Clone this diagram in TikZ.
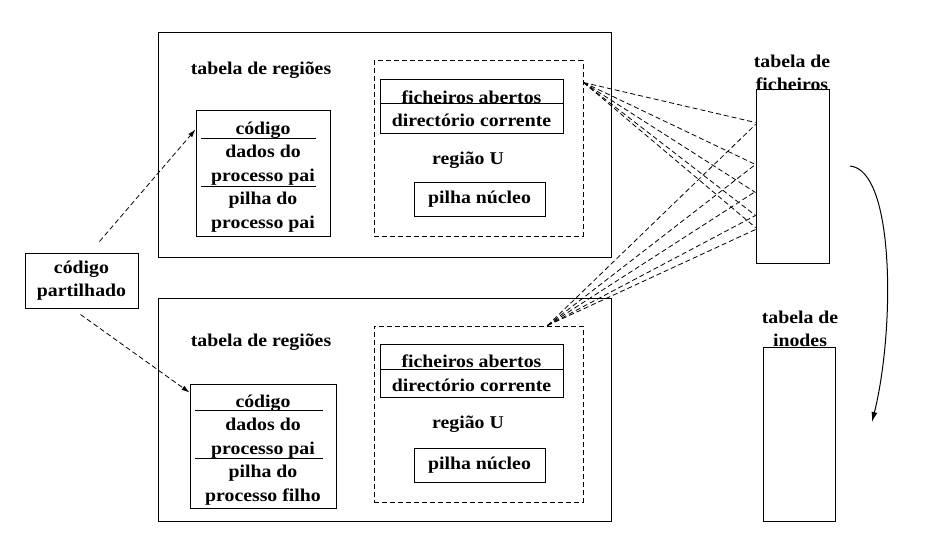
\documentclass[tikz,border=0pt]{standalone}
\usepackage{fontspec}
\setmainfont{Liberation Serif}[FakeStretch=1.1]
\usetikzlibrary{arrows.meta, positioning, calc}

\begin{document}
\begin{tikzpicture}[x=1pt, y=-1pt,
    every node/.style={font=\fontsize{18}{23.5}\selectfont\bfseries},
    box/.style={draw, line width=1pt, inner sep=0pt},
    ubox/.style={draw, line width=1pt, dashed, dash pattern=on 5pt off 3pt, inner sep=0pt},
    link/.style={dash pattern=on 5pt off 3pt, line width=0.8pt},
    arrow/.style={link, -{Latex[length=8pt, width=5pt]}}
]
    \useasboundingbox (0,0) rectangle (936,540);

    % processo pai
    \node[box, minimum width=453, minimum height=224] (proc1) at (384.5,145) {};
    \node (treg1) at (261,70) {tabela de regiões};
    \node[box, minimum width=134, minimum height=125] (reg1) at (263,173.5) {};
    \node[align=center] (txt1) at (263,177) {código\\dados do\\processo pai\\pilha do\\processo pai};
    \draw (201,138) -- (316,138);
    \draw (201,186) -- (316,186);
    \node[ubox, minimum width=209, minimum height=175] (ureg1) at (478.5,148.5) {};
    \node[box, minimum width=183, minimum height=54] (fich1) at (471.5,107) {};
    \node[align=center] (ftxt1) at (471.5,109) {ficheiros abertos\\directório corrente};
    \draw (fich1.west |- 0,103) -- (fich1.east |- 0,103);
    \node (regu1) at (468,160) {região U};
    \node[box, minimum width=131, minimum height=33] (pilha1) at (479.5,199.5) {pilha núcleo};

    % processo filho
    \node[box, minimum width=453, minimum height=223] (proc2) at (384.5,409.5) {};
    \node (treg2) at (261,342) {tabela de regiões};
    \node[box, minimum width=146, minimum height=124] (reg2) at (263,446) {};
    \node[align=center] (txt2) at (263,450) {código\\dados do\\processo pai\\pilha do\\processo filho};
    \draw (195,410) -- (323,410);
    \draw (195,458) -- (323,458);
    \node[ubox, minimum width=209, minimum height=176] (ureg2) at (478.5,414) {};
    \node[box, minimum width=183, minimum height=53] (fich2) at (471.5,370.5) {};
    \node[align=center] (ftxt2) at (471.5,373) {ficheiros abertos\\directório corrente};
    \draw (fich2.west |- 0,369) -- (fich2.east |- 0,369);
    \node (regu2) at (468,424) {região U};
    \node[box, minimum width=131, minimum height=34] (pilha2) at (479.5,465) {pilha núcleo};

    % codigo partilhado
    \node[box, minimum width=113, minimum height=55, align=center] (cod) at (81.5,280.5) {código\\partilhado};
    \draw[arrow] ($(cod.north)+(18,-11)$) -- ($(reg1.north west)+(0,19)$);
    \draw[arrow] ($(cod.south)+(-1,6)$) -- ($(reg2.north west)+(0,9)$);

    % tabelas
    \node[align=center] (ltfich) at (792,73) {tabela de\\ficheiros};
    \node[box, minimum width=73, minimum height=173] (tfich) at (792.5,176.5) {};
    \node[align=center] (ltino) at (800,329) {tabela de\\inodes};
    \node[box, minimum width=72, minimum height=174] (tino) at (799,434) {};

    \draw[link] ($(ureg1.north east)+(0,22)$) -- ($(tfich.north west)+(0,33)$);
    \draw[link] ($(ureg1.north east)+(0,22)$) -- ($(tfich.north west)+(0,75)$);
    \draw[link] ($(ureg1.north east)+(0,22)$) -- ($(tfich.north west)+(0,103)$);
    \draw[link] ($(ureg1.north east)+(0,22)$) -- ($(tfich.north west)+(0,126)$);
    \draw[link] ($(ureg1.north east)+(0,22)$) -- ($(tfich.north west)+(0,138)$);
    \draw[link] ($(ureg2.north east)+(-36,0)$) -- ($(tfich.north west)+(0,35)$);
    \draw[link] ($(ureg2.north east)+(-36,0)$) -- ($(tfich.north west)+(0,75)$);
    \draw[link] ($(ureg2.north east)+(-36,0)$) -- ($(tfich.north west)+(0,102)$);
    \draw[link] ($(ureg2.north east)+(-36,0)$) -- ($(tfich.north west)+(0,126)$);
    \draw[link] ($(ureg2.north east)+(-36,0)$) -- ($(tfich.north west)+(0,140)$);

    \coordinate (cfrom) at (850,166);
    \coordinate (cto) at (872,422);
    \draw[line width=1pt, -{Latex[length=10pt, width=6pt]}] (cfrom) .. controls (895,170) and (895,330) .. (cto);
\end{tikzpicture}
\end{document}
